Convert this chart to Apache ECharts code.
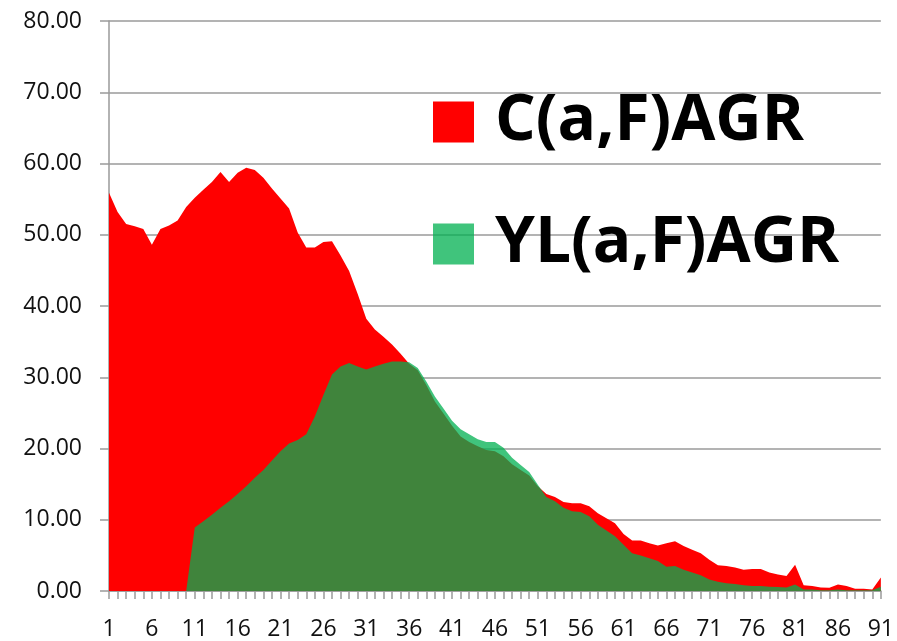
<!DOCTYPE html>
<html>
<head>
<meta charset="utf-8">
<script src="https://cdn.jsdelivr.net/npm/echarts@6/dist/echarts.min.js"></script>
<style>
  html, body { margin: 0; padding: 0; background: #fff; }
  #chart { width: 897px; height: 641px; }
</style>
</head>
<body>
<div id="chart"></div>
<script>
// ages 1..91
var categories = [];
for (var i = 1; i <= 91; i++) categories.push(String(i));

var cAGR = [
  55.9, 53.2, 51.5, 51.2, 50.8, 48.6, 50.8, 51.3, 52.0, 53.9,
  55.2, 56.3, 57.4, 58.8, 57.4, 58.7, 59.4, 59.1, 58.0, 56.5,
  55.1, 53.7, 50.3, 48.2, 48.2, 49.0, 49.1, 47.1, 44.9, 41.7,
  38.2, 36.7, 35.7, 34.6, 33.3, 31.9, 31.0, 28.9, 26.6, 24.9,
  23.2, 21.7, 20.9, 20.3, 19.8, 19.6, 18.9, 17.8, 17.0, 16.2,
  14.7, 13.6, 13.2, 12.5, 12.3, 12.3, 11.9, 10.9, 10.2, 9.5,
  8.0, 7.1, 7.1, 6.7, 6.4, 6.7, 7.0, 6.3, 5.8, 5.3,
  4.4, 3.6, 3.5, 3.3, 3.0, 3.1, 3.1, 2.6, 2.3, 2.1,
  3.7, 0.8, 0.7, 0.5, 0.45, 0.9, 0.7, 0.3, 0.3, 0.2,
  1.9
];

var ylAGR = [
  0, 0, 0, 0, 0, 0, 0, 0, 0, 0,
  8.9, 9.8, 10.7, 11.7, 12.6, 13.6, 14.7, 15.9, 17.0, 18.3,
  19.6, 20.7, 21.2, 22.0, 24.5, 27.5, 30.4, 31.5, 32.0, 31.5,
  31.1, 31.5, 31.9, 32.2, 32.2, 32.1, 31.3, 29.4, 27.3, 25.6,
  23.9, 22.7, 22.0, 21.3, 20.9, 20.9, 20.1, 18.7, 17.7, 16.7,
  14.9, 13.2, 12.6, 11.7, 11.2, 11.1, 10.5, 9.3, 8.5, 7.7,
  6.5, 5.3, 5.0, 4.6, 4.2, 3.4, 3.5, 3.0, 2.6, 2.2,
  1.6, 1.3, 1.1, 1.0, 0.8, 0.7, 0.7, 0.6, 0.55, 0.5,
  0.9, 0.2, 0.2, 0.1, 0.1, 0.2, 0.1, 0.1, 0.1, 0.1,
  0.6
];

var RED = '#ff0000';
var GREEN = 'rgba(0,176,80,0.75)';
var GRID = '#9a9a9a';

var chart = echarts.init(document.getElementById('chart'));

var legendText = {
  fontFamily: 'Open Sans',
  fontWeight: 'bold',
  fontSize: 64,
  lineHeight: 41,
  color: '#000',
  padding: [0, 0, 0, 16]
};

chart.setOption({
  animation: false,
  backgroundColor: '#fff',
  grid: { left: 109, right: 15, top: 21, bottom: 47 },
  legend: [
    { data: ['C(a,F)AGR'], left: 433, top: 90, padding: 0, icon: 'rect',
      itemWidth: 41, itemHeight: 41, textStyle: legendText },
    { data: ['YL(a,F)AGR'], left: 433, top: 212, padding: 0, icon: 'rect',
      itemWidth: 41, itemHeight: 41, textStyle: legendText }
  ],
  xAxis: {
    type: 'category',
    boundaryGap: false,
    data: categories,
    axisLine: { lineStyle: { color: GRID, width: 1.5 } },
    axisTick: { show: true, interval: 0, length: 8, lineStyle: { color: GRID, width: 1.5 } },
    axisLabel: {
      interval: 4, margin: 27, color: '#111',
      fontFamily: 'Open Sans', fontSize: 23
    },
    splitLine: { show: false }
  },
  yAxis: {
    type: 'value',
    min: 0, max: 80, interval: 10,
    axisLine: { show: true, lineStyle: { color: GRID, width: 1.5 } },
    axisTick: { show: true, length: 9, lineStyle: { color: GRID, width: 1.5 } },
    axisLabel: {
      margin: 27, color: '#111',
      fontFamily: 'Open Sans', fontSize: 23,
      formatter: function (v) { return v.toFixed(2); }
    },
    splitLine: { show: true, lineStyle: { color: GRID, width: 1.5 } }
  },
  series: [
    {
      name: 'C(a,F)AGR',
      type: 'line',
      data: cAGR,
      symbol: 'none',
      itemStyle: { color: RED },
      lineStyle: { width: 0 },
      areaStyle: { color: RED, opacity: 1 }
    },
    {
      name: 'YL(a,F)AGR',
      type: 'line',
      data: ylAGR,
      symbol: 'none',
      itemStyle: { color: GREEN },
      lineStyle: { width: 0 },
      areaStyle: { color: GREEN, opacity: 1 }
    }
  ]
});

window.addEventListener('resize', function () { chart.resize(); });
</script>
</body>
</html>
